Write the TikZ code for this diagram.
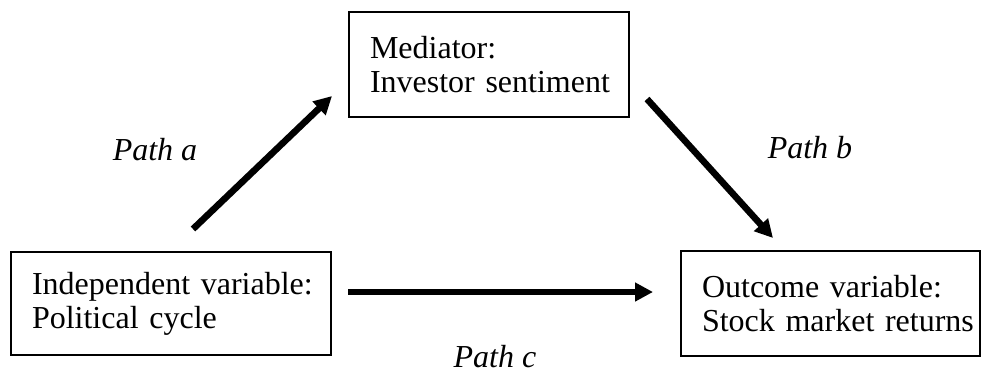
\documentclass[tikz,border=0pt]{standalone}
\usepackage{fontspec}
\setmainfont{Liberation Serif}
\usepackage{tikz}
\usetikzlibrary{arrows.meta, positioning}

\begin{document}
\begin{tikzpicture}[
  x=0.5pt, y=-0.5pt,
  every node/.style={font=\fontsize{16}{17}\selectfont},
  varbox/.style={rectangle, draw=black, line width=1pt, inner xsep=0pt,
                 inner ysep=0pt, align=left,
                 execute at begin node={\leftskip=10.5pt}},
  pathlbl/.style={anchor=base, inner sep=0pt,
                  font=\fontsize{16}{17}\selectfont\itshape},
  effect/.style={-{Triangle[length=9pt, width=9pt]}, line width=3.3pt},
]
\useasboundingbox (0,0) rectangle (981,372);

% Boxes
\node[varbox, text width=160pt, minimum height=51.5pt] (indep) at (171,303.5)
  {Independent variable:\\Political cycle};
\node[varbox, text width=140pt, minimum height=52.5pt] (med) at (489,64.5)
  {Mediator:\\Investor sentiment};
\node[varbox, text width=149.5pt, minimum height=52.5pt] (outc) at (830.5,303.5)
  {Outcome variable:\\Stock market returns};

% Arrow ends
\coordinate (a0) at (193,229);
\coordinate (a1) at (332,96);
\coordinate (b0) at (647,99);
\coordinate (b1) at (773,238);
\coordinate (c0) at (348,292);
\coordinate (c1) at (653,292);

% Paths
\draw[effect] (a0) -- (a1);
\draw[effect] (b0) -- (b1);
\draw[effect] (c0) -- (c1);

% Labels
\node[pathlbl] (la) at (155,160) {Path a};
\node[pathlbl] (lb) at (810,158) {Path b};
\node[pathlbl] (lc) at (495,367) {Path c};

\end{tikzpicture}
\end{document}
